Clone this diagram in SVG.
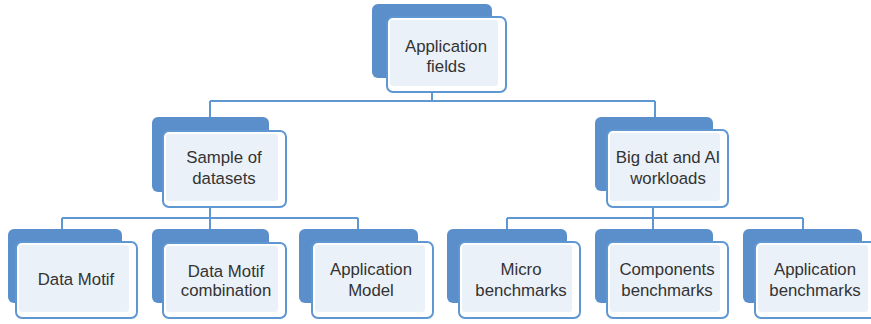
<svg xmlns="http://www.w3.org/2000/svg" width="871" height="324" viewBox="0 0 871 324">
<style>
.back{fill:#5b8fcb;}
.front{fill:#ffffff;stroke:#5e97d2;stroke-width:2;}
.inner{fill:#ebf1f8;}
.conn{fill:none;stroke:#5e97d2;stroke-width:2;}
text{font-family:"Liberation Sans",Arial,sans-serif;font-size:16.8px;fill:#333333;text-anchor:middle;}
</style>
<rect width="871" height="324" fill="#ffffff"/>
<g id="connectors">
<path class="conn" d="M432 92V101M210 101H655M210 101V117M655 101V117"/>
<path class="conn" d="M210 207V218M62 218H358M62 218V229M210 218V229M358 218V229"/>
<path class="conn" d="M653 207V218M507 218H803M507 218V229M653 218V229M803 218V229"/>
</g>
<g id="n-app-fields">
<rect class="back" x="372" y="4" width="120" height="74" rx="6"/>
<rect class="front" x="387" y="17" width="119" height="75" rx="6"/>
<rect class="inner" x="390" y="20" width="108" height="66" rx="3"/>
<text x="446" y="52">Application</text>
<text x="446" y="72">fields</text>
</g>
<g id="n-sample">
<rect class="back" x="152" y="117" width="117" height="75" rx="6"/>
<rect class="front" x="163" y="131" width="123" height="76" rx="6"/>
<rect class="inner" x="166" y="134" width="112" height="67" rx="3"/>
<text x="224" y="163">Sample of</text>
<text x="224" y="184">datasets</text>
</g>
<g id="n-bigdat">
<rect class="back" x="595" y="117" width="118" height="74" rx="6"/>
<rect class="front" x="607" y="130" width="121" height="77" rx="6"/>
<rect class="inner" x="610" y="133" width="110" height="68" rx="3"/>
<text x="668" y="163">Big dat and AI</text>
<text x="668" y="184">workloads</text>
</g>
<g id="n-data-motif">
<rect class="back" x="8" y="229" width="114" height="74" rx="6"/>
<rect class="front" x="16" y="242" width="121" height="76" rx="6"/>
<rect class="inner" x="19" y="245" width="110" height="67" rx="3"/>
<text x="76" y="285">Data Motif</text>
</g>
<g id="n-dm-comb">
<rect class="back" x="152" y="229" width="117" height="74" rx="6"/>
<rect class="front" x="163" y="243" width="123" height="75" rx="6"/>
<rect class="inner" x="166" y="246" width="112" height="66" rx="3"/>
<text x="226" y="277">Data Motif</text>
<text x="226" y="296">combination</text>
</g>
<g id="n-app-model">
<rect class="back" x="299" y="229" width="119" height="74" rx="6"/>
<rect class="front" x="312" y="242" width="121" height="76" rx="6"/>
<rect class="inner" x="315" y="245" width="110" height="67" rx="3"/>
<text x="371" y="275">Application</text>
<text x="371" y="296">Model</text>
</g>
<g id="n-micro">
<rect class="back" x="447" y="229" width="120" height="74" rx="6"/>
<rect class="front" x="459" y="242" width="121" height="76" rx="6"/>
<rect class="inner" x="462" y="245" width="110" height="67" rx="3"/>
<text x="521" y="275">Micro</text>
<text x="521" y="296">benchmarks</text>
</g>
<g id="n-components">
<rect class="back" x="595" y="229" width="118" height="74" rx="6"/>
<rect class="front" x="607" y="242" width="121" height="76" rx="6"/>
<rect class="inner" x="610" y="245" width="110" height="67" rx="3"/>
<text x="667" y="275">Components</text>
<text x="667" y="296">benchmarks</text>
</g>
<g id="n-app-bench">
<rect class="back" x="743" y="229" width="119" height="74" rx="6"/>
<rect class="front" x="755" y="242" width="121" height="76" rx="6"/>
<rect class="inner" x="758" y="245" width="110" height="67" rx="3"/>
<text x="815" y="275">Application</text>
<text x="815" y="296">benchmarks</text>
</g>
</svg>
